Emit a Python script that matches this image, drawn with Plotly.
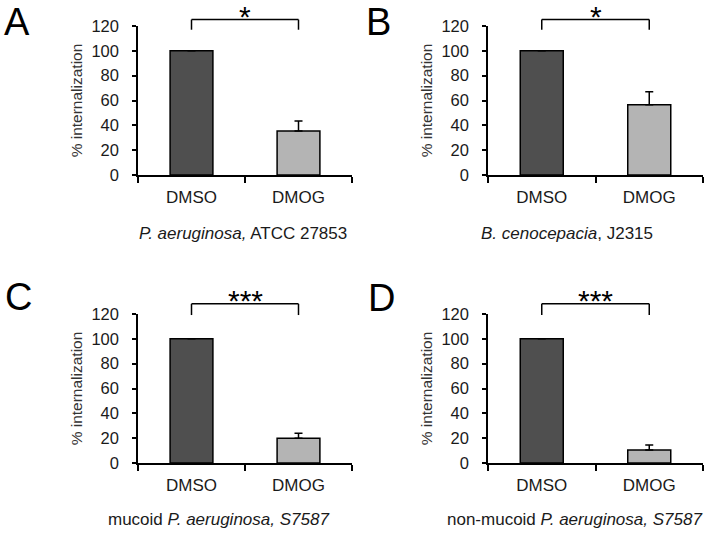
import plotly.graph_objects as go

# ---------------- data ----------------
categories = ["DMSO", "DMOG"]
panel_letters = ["A", "B", "C", "D"]

values_A = [100, 35.5]
errors_A = [0, 8]
values_B = [100, 56.5]
errors_B = [0, 10.5]
values_C = [100, 20]
errors_C = [0, 4]
values_D = [100, 10.5]
errors_D = [0, 4]

significance = ["*", "*", "***", "***"]
subtitles = [
    "<i>P. aeruginosa,</i> ATCC 27853",
    "<i>B. cenocepacia</i>, J2315",
    "mucoid <i>P. aeruginosa, S7587</i>",
    "non-mucoid <i>P. aeruginosa, S7587</i>",
]
y_tickvals = [0, 20, 40, 60, 80, 100, 120]
y_title = "% internalization"

panel_values = [values_A, values_B, values_C, values_D]
panel_errors = [errors_A, errors_B, errors_C, errors_D]

# ---------------- style ----------------
W, H = 716, 534
FONT = "Liberation Sans, Arial, sans-serif"
bar_colors = ["#4f4f4f", "#b4b4b4"]
text_col = "#1a1a1a"

x_domains = [[138 / W, 352 / W], [488 / W, 703 / W]]
y_domains = [[1 - 175 / H, 1 - 26 / H], [1 - 463 / H, 1 - 314 / H]]

fig = go.Figure()

layout_axes = {}
annotations = []
shapes = []

for i in range(4):
    row, col = divmod(i, 2)
    n = i + 1
    xa = "x" if n == 1 else f"x{n}"
    ya = "y" if n == 1 else f"y{n}"
    xkey = "xaxis" if n == 1 else f"xaxis{n}"
    ykey = "yaxis" if n == 1 else f"yaxis{n}"

    fig.add_trace(go.Bar(
        x=categories,
        y=panel_values[i],
        xaxis=xa, yaxis=ya,
        width=0.4,
        marker=dict(color=bar_colors, line=dict(color="black", width=1.5)),
        error_y=dict(type="data", symmetric=False, array=panel_errors[i],
                     arrayminus=[0] * len(categories),
                     color="black", thickness=1.5, width=4),
        showlegend=False,
        hoverinfo="skip",
    ))

    layout_axes[xkey] = dict(
        domain=x_domains[col], anchor=ya, automargin=False,
        type="category", range=[-0.5, len(categories) - 0.5],
        tickson="boundaries", ticks="outside", ticklen=6, tickwidth=1.5,
        tickcolor="black", showline=True, linecolor="black", linewidth=1.5,
        showgrid=False, zeroline=False,
        tickfont=dict(family=FONT, size=17, color=text_col),
        ticklabelstandoff=6,
    )
    layout_axes[ykey] = dict(
        domain=y_domains[row], anchor=xa, automargin=False,
        range=[0, 120], tickvals=y_tickvals,
        ticks="outside", ticklen=4, tickwidth=1.5, tickcolor="black",
        showline=True, linecolor="black", linewidth=1.5,
        showgrid=False, zeroline=False,
        tickfont=dict(family=FONT, size=16.5, color=text_col),
        ticklabelstandoff=10,
        title=dict(text=y_title, font=dict(family=FONT, size=15.5, color="#333333"),
                   standoff=5),
    )

    # significance bracket (between bar centres)
    xl = 0.5 / len(categories)
    xr = 1.5 / len(categories)
    ytop, yleg = (1.043, 0.975) if row == 0 else (1.068, 0.993)
    for (x0, y0, x1, y1) in [(xl, yleg, xl, ytop), (xl, ytop, xr, ytop), (xr, ytop, xr, yleg)]:
        shapes.append(dict(type="line", xref=f"{xa} domain", yref=f"{ya} domain",
                           x0=x0, y0=y0, x1=x1, y1=y1,
                           line=dict(color="black", width=1.5)))
    star_y = 1.064 if row == 0 else 1.092
    annotations.append(dict(text=significance[i], xref=f"{xa} domain", yref=f"{ya} domain",
                            x=(xl + xr) / 2, y=star_y, xanchor="center", yanchor="middle",
                            showarrow=False,
                            font=dict(family=FONT, size=30, color="black")))

    # subtitle
    sub_x = [243, 567, 218.5, 574.5][i]
    sub_y = [234, 234, 519, 519][i]
    annotations.append(dict(text=subtitles[i], xref="paper", yref="paper",
                            x=sub_x / W, y=1 - sub_y / H, xanchor="center", yanchor="middle",
                            showarrow=False,
                            font=dict(family=FONT, size=17, color=text_col)))

    # panel letter
    lx = [2, 364, 3, 366][i]
    ly = [22, 22, 297, 298][i]
    annotations.append(dict(text=panel_letters[i], xref="paper", yref="paper",
                            x=lx / W, y=1 - ly / H, xanchor="left", yanchor="middle",
                            showarrow=False,
                            font=dict(family=FONT, size=38, color="black")))

fig.update_layout(
    width=W, height=H,
    margin=dict(l=0, r=0, t=0, b=0, autoexpand=False),
    paper_bgcolor="white", plot_bgcolor="white",
    annotations=annotations, shapes=shapes,
    bargap=0.6,
    **layout_axes,
)

fig.write_html("out.html",
               config={"displayModeBar": False},
               post_script="document.body.style.margin='0';document.body.style.padding='0';")
